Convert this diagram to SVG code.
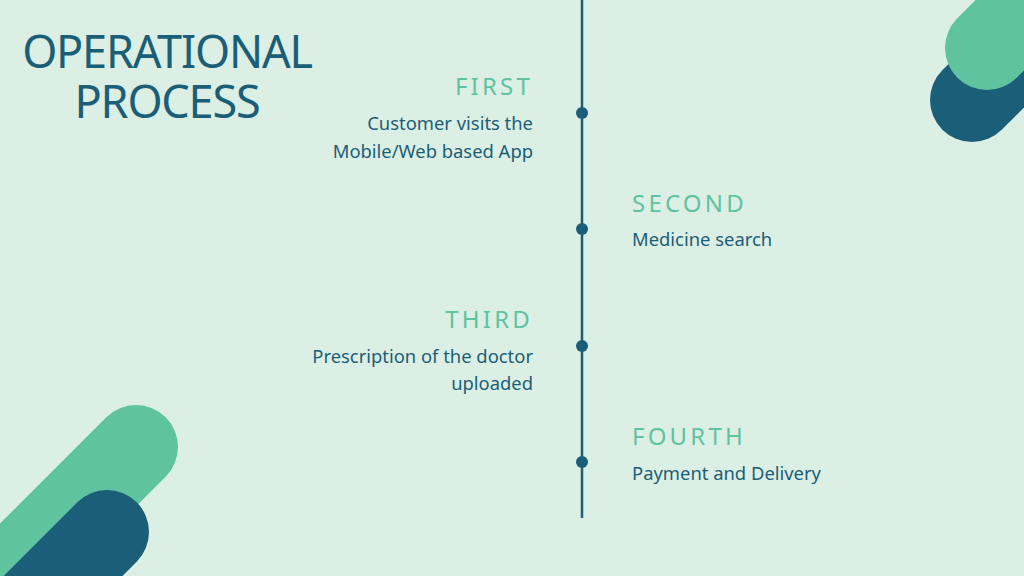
<svg xmlns="http://www.w3.org/2000/svg" width="1024" height="576" viewBox="0 0 1024 576">
<style>
.h{font-family:"Noto Sans","Open Sans",sans-serif;font-size:24px;fill:#5fc3a0;letter-spacing:3.2px}
.b{font-family:"Noto Sans","Open Sans",sans-serif;font-size:18.4px;fill:#1b5e78}
.t{font-family:"Noto Sans","Open Sans",sans-serif;font-size:45px;fill:#1b5e78;letter-spacing:-1.2px}
.r{text-anchor:end}
</style>
<rect width="1024" height="576" fill="#dcefe4"/>
<g id="deco" stroke-linecap="round" stroke-width="84">
<line x1="972" y1="100" x2="1100" y2="-28" stroke="#1b5e78"/>
<line x1="987" y1="48" x2="1100" y2="-65" stroke="#5fc3a0"/>
<line x1="136" y1="447" x2="-60" y2="643" stroke="#5fc3a0"/>
<line x1="107" y1="532" x2="-60" y2="699" stroke="#1b5e78"/>
</g>
<g id="title"><text class="t" x="167" y="68" text-anchor="middle">OPERATIONAL</text><text class="t" x="167" y="118" text-anchor="middle">PROCESS</text></g>
<g id="connectors"><line x1="582" y1="0" x2="582" y2="518" stroke="#1b5e78" stroke-width="2.5"/></g>
<g id="n1"><circle cx="582" cy="113" r="6" fill="#1b5e78"/><text class="h r" x="533" y="95">FIRST</text><text class="b r" x="533" y="130">Customer visits the</text><text class="b r" x="533" y="158">Mobile/Web based App</text></g>
<g id="n2"><circle cx="582" cy="229" r="6" fill="#1b5e78"/><text class="h" x="632" y="212">SECOND</text><text class="b" x="632" y="246">Medicine search</text></g>
<g id="n3"><circle cx="582" cy="346" r="6" fill="#1b5e78"/><text class="h r" x="533" y="328">THIRD</text><text class="b r" x="533" y="363">Prescription of the doctor</text><text class="b r" x="533" y="390">uploaded</text></g>
<g id="n4"><circle cx="582" cy="462" r="6" fill="#1b5e78"/><text class="h" x="632" y="445">FOURTH</text><text class="b" x="632" y="480">Payment and Delivery</text></g>
</svg>
